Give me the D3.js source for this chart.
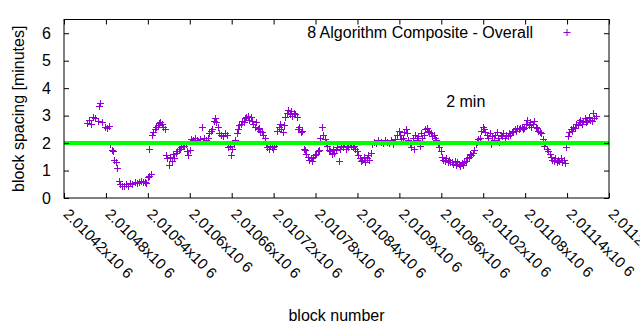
<!DOCTYPE html>
<html>
<head>
<meta charset="utf-8">
<script src="https://cdn.jsdelivr.net/npm/d3@7"></script>
<style>
  body { margin: 0; background: #fff; }
  text { font-family: "Liberation Sans", Arial, sans-serif; fill: #000; }
</style>
</head>
<body>
<div id="chart"></div>
<script>
// block numbers and block spacing (minutes)
var blocks = [
  2010453, 2010456, 2010459, 2010462, 2010465, 2010468, 2010470, 2010472, 2010475, 2010478,
  2010481, 2010484, 2010486, 2010488, 2010490, 2010492, 2010494, 2010496, 2010498, 2010500,
  2010503, 2010506, 2010509, 2010512, 2010515, 2010518, 2010521, 2010524, 2010527, 2010530,
  2010533, 2010536, 2010538, 2010540, 2010541, 2010542, 2010544, 2010546, 2010548, 2010550,
  2010552, 2010554, 2010556, 2010558, 2010560, 2010562, 2010564, 2010566, 2010568, 2010570,
  2010572, 2010574, 2010576, 2010578, 2010580, 2010582, 2010584, 2010586, 2010588, 2010590,
  2010592, 2010594, 2010596, 2010598, 2010600, 2010602, 2010605, 2010608, 2010611, 2010614,
  2010617, 2010620, 2010623, 2010626, 2010628, 2010630, 2010632, 2010634, 2010636, 2010638,
  2010640, 2010642, 2010644, 2010647, 2010650, 2010653, 2010655, 2010657, 2010659, 2010661,
  2010663, 2010665, 2010667, 2010669, 2010671, 2010673, 2010675, 2010677, 2010679, 2010681,
  2010683, 2010685, 2010687, 2010689, 2010691, 2010693, 2010695, 2010697, 2010699, 2010701,
  2010703, 2010705, 2010707, 2010709, 2010711, 2010713, 2010715, 2010717, 2010719, 2010721,
  2010723, 2010725, 2010727, 2010729, 2010731, 2010733, 2010735, 2010737, 2010739, 2010741,
  2010743, 2010745, 2010747, 2010749, 2010751, 2010753, 2010755, 2010757, 2010759, 2010761,
  2010763, 2010765, 2010767, 2010769, 2010771, 2010773, 2010775, 2010777, 2010779, 2010781,
  2010783, 2010785, 2010787, 2010789, 2010791, 2010793, 2010795, 2010797, 2010799, 2010801,
  2010803, 2010805, 2010807, 2010809, 2010811, 2010813, 2010815, 2010817, 2010819, 2010821,
  2010823, 2010825, 2010827, 2010829, 2010831, 2010833, 2010835, 2010837, 2010839, 2010841,
  2010843, 2010845, 2010847, 2010849, 2010851, 2010853, 2010855, 2010857, 2010859, 2010861,
  2010864, 2010867, 2010870, 2010873, 2010876, 2010879, 2010882, 2010885, 2010888, 2010891,
  2010894, 2010897, 2010899, 2010901, 2010903, 2010905, 2010907, 2010909, 2010911, 2010913,
  2010915, 2010917, 2010919, 2010921, 2010923, 2010925, 2010927, 2010929, 2010931, 2010933,
  2010935, 2010937, 2010939, 2010941, 2010943, 2010945, 2010947, 2010949, 2010951, 2010953,
  2010955, 2010957, 2010959, 2010961, 2010963, 2010965, 2010967, 2010969, 2010971, 2010973,
  2010975, 2010977, 2010979, 2010981, 2010983, 2010985, 2010987, 2010989, 2010991, 2010993,
  2010995, 2010997, 2010999, 2011001, 2011003, 2011005, 2011007, 2011009, 2011011, 2011013,
  2011015, 2011017, 2011019, 2011021, 2011023, 2011025, 2011027, 2011029, 2011031, 2011033,
  2011035, 2011037, 2011039, 2011041, 2011043, 2011045, 2011047, 2011049, 2011051, 2011053,
  2011055, 2011057, 2011059, 2011061, 2011063, 2011065, 2011067, 2011069, 2011071, 2011073,
  2011075, 2011077, 2011079, 2011081, 2011083, 2011085, 2011087, 2011089, 2011091, 2011093,
  2011095, 2011097, 2011099, 2011101, 2011103, 2011105, 2011107, 2011109, 2011111, 2011113,
  2011115, 2011117, 2011119, 2011121, 2011123, 2011125, 2011127, 2011129, 2011131, 2011133,
  2011135, 2011137, 2011139, 2011141, 2011143, 2011145, 2011147, 2011149, 2011151, 2011153,
  2011155, 2011157, 2011159, 2011161, 2011163, 2011165, 2011167, 2011169, 2011171, 2011173,
  2011175, 2011177, 2011179, 2011181
];
var spacing = [
  2.72, 2.85, 2.7, 2.95, 2.9, 2.82, 3.35, 3.45, 2.78, 2.6,
  2.55, 2.62, 1.95, 1.75, 1.7, 1.4, 1.3, 1.1, 0.62, 0.5,
  0.45, 0.42, 0.5, 0.45, 0.55, 0.5, 0.58, 0.55, 0.6, 0.62,
  0.58, 0.6, 0.55, 0.75, 1.78, 0.8, 0.88, 2.3, 2.4, 2.5,
  2.6, 2.65, 2.72, 2.78, 2.7, 2.6, 2.52, 1.55, 1.45, 1.2,
  1.5, 1.35, 1.6, 1.45, 1.65, 1.7, 1.78, 1.8, 1.85, 1.9,
  1.88, 1.95, 1.7, 1.55, 1.75, 2.15, 2.1, 2.2, 2.1, 2.15,
  2.6, 2.2, 2.1, 2.2, 2.35, 2.45, 2.5, 2.8, 2.9, 2.75,
  2.6, 2.35, 2.3, 2.25, 2.35, 2.3, 1.85, 1.9, 1.55, 1.8,
  1.95, 2.1, 2.35, 2.5, 2.65, 2.7, 2.8, 2.75, 2.9, 2.95,
  3.0, 2.85, 2.95, 2.8, 2.7, 2.6, 2.75, 2.5, 2.55, 2.45,
  2.4, 2.3, 2.2, 1.95, 1.85, 1.8, 1.9, 1.85, 1.8, 1.9,
  1.95, 2.45, 2.6, 2.7, 2.5, 2.4, 2.65, 2.95, 3.1, 3.2,
  3.05, 3.15, 3.0, 3.1, 3.05, 2.95, 2.5, 2.6, 2.4, 2.45,
  1.8, 1.75, 1.6, 1.5, 1.4, 1.45, 1.35, 1.5, 1.55, 1.6,
  1.7, 1.75, 2.2, 2.6, 2.3, 2.15, 2.05, 1.9, 1.75, 1.7,
  1.6, 1.8, 1.65, 1.75, 1.85, 1.35, 1.8, 1.9, 1.85, 1.95,
  1.8, 1.9, 1.85, 1.95, 1.9, 1.85, 1.9, 1.8, 1.7, 1.55,
  1.45, 1.35, 1.4, 1.5, 1.3, 1.45, 1.55, 1.4, 1.65, 1.95,
  2.05, 2.0, 2.1, 2.05, 2.0, 2.1, 2.05, 2.0, 2.1, 1.95,
  2.15, 2.3, 2.45, 2.3, 2.15, 2.2, 2.4, 2.5, 2.35, 2.1,
  2.0, 1.85, 2.2, 1.8, 2.3, 2.1, 2.25, 1.9, 2.35, 2.2,
  2.3, 2.5, 2.55, 2.45, 2.4, 2.35, 2.25, 2.3, 2.2, 2.1,
  1.95, 1.85, 1.7, 1.5, 1.4, 1.35, 1.45, 1.3, 1.38, 1.32,
  1.3, 1.25, 1.35, 1.2, 1.3, 1.25, 1.15, 1.28, 1.2, 1.3,
  1.35, 1.45, 1.5, 1.6, 1.55, 1.65, 1.75, 1.95, 2.05, 2.15,
  2.2, 2.45, 2.6, 2.5, 2.4, 2.3, 2.2, 2.35, 1.95, 2.25,
  2.1, 2.3, 2.4, 2.2, 2.05, 2.3, 2.25, 2.35, 2.2, 2.3,
  2.25, 2.35, 2.3, 2.4, 2.45, 2.5, 2.45, 2.55, 2.5, 2.55,
  2.6, 2.5, 2.55, 2.7, 2.85, 2.65, 2.75, 2.6, 2.7, 2.8,
  2.6, 2.55, 2.45, 2.4, 2.35, 2.15, 1.9, 2.05, 1.8, 1.7,
  1.6, 1.5, 1.4, 1.35, 1.45, 1.3, 1.4, 1.35, 1.45, 1.3,
  1.38, 1.28, 1.85, 2.25, 2.4, 2.5, 2.45, 2.6, 2.55, 2.7,
  2.65, 2.75, 2.85, 2.7, 2.8, 2.9, 2.75, 2.8, 2.95, 2.85,
  2.8, 3.1, 2.9, 3.0
];
var target = [2];      // the 2 minute target line
var xTicks = [2010420, 2010480, 2010540, 2010600, 2010660, 2010720, 2010780,
  2010840, 2010900, 2010960, 2011020, 2011080, 2011140, 2011200];
var xTickLabels = ['2.01042x10 6', '2.01048x10 6', '2.01054x10 6', '2.0106x10 6',
  '2.01066x10 6', '2.01072x10 6', '2.01078x10 6', '2.01084x10 6', '2.0109x10 6',
  '2.01096x10 6', '2.01102x10 6', '2.01108x10 6', '2.01114x10 6', '2.0112x10 6'];
var yTicks = [0, 1, 2, 3, 4, 5, 6];

var chartWidth = 640;
var chartHeight = 330;
var plotLeft = 64, plotRight = 609, plotTop = 19.5, plotBottom = 198;

var svg = d3.select('#chart')
    .append('svg')
    .attr('width', chartWidth)
    .attr('height', chartHeight)
    .style('background-color', '#fff');

var scaleX = d3.scaleLinear()
    .domain([2010420, 2011200])
    .range([plotLeft, plotRight]);
var scaleY = d3.scaleLinear()
    .domain([0, 6.5])
    .range([plotBottom, plotTop]);

// points
var pts = blocks.map(function(b, i) { return [b, spacing[i]]; });
var plus = 3.5;
svg.append('g')
    .selectAll('path')
    .data(pts)
    .enter()
    .append('path')
    .attr('d', function(d) {
      var x = Math.round(scaleX(d[0])) + 0.5;
      var y = Math.round(scaleY(d[1])) + 0.5;
      return 'M' + (x - plus) + ',' + y + 'H' + (x + plus) +
          'M' + x + ',' + (y - plus) + 'V' + (y + plus);
    })
    .attr('stroke', '#9400d3')
    .attr('stroke-width', 1)
    .attr('fill', 'none');

// 2 minute line
svg.append('g')
    .selectAll('line')
    .data(target)
    .enter()
    .append('line')
    .attr('x1', scaleX(2010420))
    .attr('x2', scaleX(2011200))
    .attr('y1', function(d) { return scaleY(d); })
    .attr('y2', function(d) { return scaleY(d); })
    .attr('stroke', '#00ff00')
    .attr('stroke-width', 4);

// Axis
var axisX = d3.axisBottom(scaleX)
    .tickValues(xTicks)
    .tickSizeInner(-5)
    .tickSizeOuter(0)
    .tickFormat(function(d, i) { return xTickLabels[i]; });
var gx = svg.append('g')
    .attr('transform', 'translate(0,' + plotBottom + ')')
    .call(axisX);
gx.select('.domain').remove();
gx.selectAll('text')
    .attr('y', null)
    .attr('dy', null)
    .attr('x', null)
    .attr('transform', 'translate(-2,17) rotate(45)')
    .attr('text-anchor', 'start')
    .attr('font-size', 15)
    .attr('font-family', '"Liberation Sans", Arial, sans-serif');

var axisXTop = d3.axisTop(scaleX)
    .tickValues(xTicks)
    .tickSizeInner(-5)
    .tickSizeOuter(0)
    .tickFormat('');
var gxt = svg.append('g')
    .attr('transform', 'translate(0,' + plotTop + ')')
    .call(axisXTop);
gxt.select('.domain').remove();

var axisY = d3.axisLeft(scaleY)
    .tickValues(yTicks)
    .tickSizeInner(-5)
    .tickSizeOuter(0)
    .tickPadding(13)
    .tickFormat(d3.format('d'));
var gy = svg.append('g')
    .attr('transform', 'translate(' + plotLeft + ',0)')
    .call(axisY);
gy.select('.domain').remove();
gy.selectAll('text')
    .attr('font-size', 16)
    .attr('font-family', '"Liberation Sans", Arial, sans-serif');

var axisYRight = d3.axisRight(scaleY)
    .tickValues(yTicks)
    .tickSizeInner(-5)
    .tickSizeOuter(0)
    .tickFormat('');
var gyr = svg.append('g')
    .attr('transform', 'translate(' + plotRight + ',0)')
    .call(axisYRight);
gyr.select('.domain').remove();

svg.selectAll('.tick line').attr('stroke', '#000');

// border
svg.append('rect')
    .attr('x', plotLeft)
    .attr('y', plotTop)
    .attr('width', plotRight - plotLeft)
    .attr('height', plotBottom - plotTop)
    .attr('fill', 'none')
    .attr('stroke', '#000')
    .attr('stroke-width', 1);

// Labels
svg.append('text')
    .attr('transform', 'translate(24,' + ((plotTop + plotBottom) / 2) + ') rotate(-90)')
    .attr('text-anchor', 'middle')
    .attr('font-size', 16)
    .text('block spacing [minutes]');
svg.append('text')
    .attr('x', (plotLeft + plotRight) / 2)
    .attr('y', 321)
    .attr('text-anchor', 'middle')
    .attr('font-size', 16)
    .text('block number');

// legend
svg.append('text')
    .attr('x', 533)
    .attr('y', 37.5)
    .attr('text-anchor', 'end')
    .attr('font-size', 16)
    .text('8 Algorithm Composite - Overall');
svg.append('path')
    .attr('d', 'M563.5,32.5H570.5M567,29V36')
    .attr('stroke', '#9400d3')
    .attr('stroke-width', 1);

svg.append('text')
    .attr('x', scaleX(2010967))
    .attr('y', scaleY(3.5))
    .attr('dy', '0.35em')
    .attr('font-size', 16)
    .text('2 min');
</script>
</body>
</html>
